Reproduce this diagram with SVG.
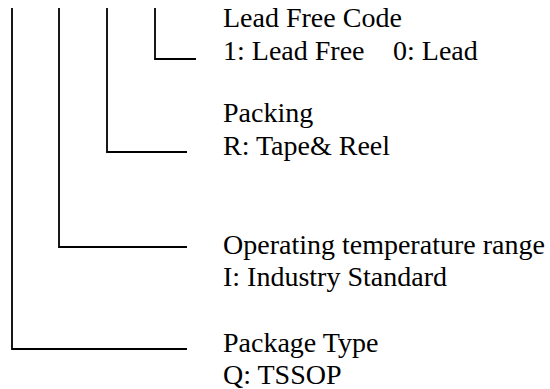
<svg xmlns="http://www.w3.org/2000/svg" width="550" height="389" viewBox="0 0 550 389">
<style>
.t{font-family:"Liberation Serif","Times New Roman",serif;font-size:28px;fill:#000}
.c{stroke:#000;stroke-width:1.8;fill:none}
</style>
<rect width="550" height="389" fill="#fff"/>
<g id="connectors">
<polyline class="c" points="155,8 155,59 196,59"/>
<polyline class="c" points="107,8 107,152 187,152"/>
<polyline class="c" points="59,8 59,247 187,247"/>
<polyline class="c" points="12,8 12,349 187,349"/>
</g>
<g id="lead-free-code">
<text class="t" x="223" y="27">Lead Free Code</text>
<text class="t" y="60"><tspan x="223">1: Lead Free</tspan><tspan x="393">0: Lead</tspan></text>
</g>
<g id="packing">
<text class="t" x="223" y="122">Packing</text>
<text class="t" x="223" y="155">R: Tape&amp; Reel</text>
</g>
<g id="operating-temperature">
<text class="t" x="223" y="254">Operating temperature range</text>
<text class="t" x="223" y="286">I: Industry Standard</text>
</g>
<g id="package-type">
<text class="t" x="223" y="352">Package Type</text>
<text class="t" x="223" y="384">Q: TSSOP</text>
</g>
</svg>
